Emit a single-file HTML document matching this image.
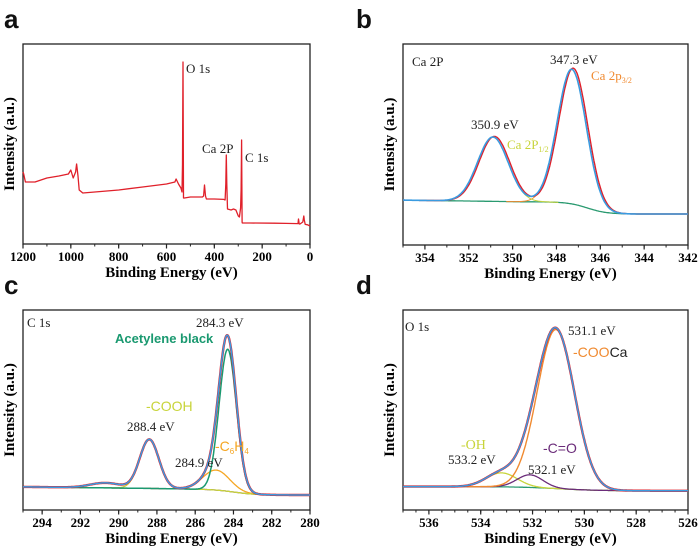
<!DOCTYPE html>
<html><head><meta charset="utf-8"><style>
html,body{margin:0;padding:0;background:#fff;}
svg{display:block;font-family:"Liberation Serif",serif;}
.tk{font-size:13px;font-weight:bold;text-anchor:middle;}
.ttl{font-size:15px;font-weight:bold;text-anchor:middle;}
.lbl{font-size:13px;}
.let{font-family:"Liberation Sans",sans-serif;font-weight:bold;font-size:26px;}
</style></head><body>
<svg id="c" width="700" height="554" viewBox="0 0 700 554" xmlns="http://www.w3.org/2000/svg"></svg>
<script>
// ---- data ----
// panel a: survey spectrum [energy, intensity(0-100)]
const surveyE = [1200,1197,1190,1150,1100,1050,1010,1000,990,980,976,970,965,950,900,800,700,600,565,560,550,540,535,533,531,529,525,500,450,445,441,437,433,400,360,355,352,350,348,345,330,320,310,300,295,290,288,286,284,283,250,150,100,50,48,45,42,30,26,24,20,10,0];
const surveyI = [36,35,31,31,33,34,35,37,33,36,40,34,27,25.5,26,27,28.5,30,31,32.5,30,28,26,40,91,23,23,23.5,23.5,24,29.5,24,22.5,22.5,22.3,22,30,44.5,30,17.5,17,17.5,17,14,13.5,18,27,52,11,10.5,10.5,10.4,10.3,10.2,12.5,10,10,11,14,12,9.8,9.6,9];
// panel b: Ca 2p
const bCenters=[347.3,350.9], bHeights=[67,32], bSigmas=[0.66,0.7];
// panel c: C 1s
const cCenters=[284.3,284.9,288.4,290.7], cHeights=[71,10,24.5,2.5], cSigmas=[0.45,0.7,0.5,0.8];
// panel d: O 1s
const dCenters=[531.1,532.1,533.2], dHeights=[79.5,6.3,7], dSigmas=[0.72,0.5,0.6];

const ticksA=[1200,1000,800,600,400,200,0];
const ticksB=[354,352,350,348,346,344,342];
const ticksC=[294,292,290,288,286,284,282,280];
const ticksD=[536,534,532,530,528,526];

const NS="http://www.w3.org/2000/svg";
const svg=document.getElementById('c');
function el(t,a,p){const e=document.createElementNS(NS,t);for(const k in a)e.setAttribute(k,a[k]);(p||svg).appendChild(e);return e;}

function panel(name,L,R,T,B,x0,x1,ticks,minorStep){
  const g=el('g',{});
  
  
  const sx=e=>L+(x0-e)/(x0-x1)*(R-L);
  const sy=v=>B-v/100*(B-T);
  el('rect',{x:L,y:T,width:R-L,height:B-T,fill:'none',stroke:'#222','stroke-width':1.3},g);
  for(let e=Math.min(x0,x1);e<=Math.max(x0,x1)+1e-9;e+=minorStep){
    const x=sx(e);el('line',{x1:x,x2:x,y1:B,y2:B+2.5,stroke:'#222'},g);
  }
  ticks.forEach(t=>{const x=sx(t);el('line',{x1:x,x2:x,y1:B,y2:B+4.5,stroke:'#222','stroke-width':1.2},g);
    const tx=el('text',{x:x,y:B+17,class:'tk'},g);tx.textContent=t;
    });
  const xt=el('text',{x:(L+R)/2+5,y:B+33,class:'ttl'},g);xt.textContent='Binding Energy (eV)';
  
  const yt=el('text',{x:0,y:0,class:'ttl',transform:`translate(${L-9},${(T+B)/2}) rotate(-90)`},g);yt.textContent='Intensity (a.u.)';
  
  return {g,sx,sy};
}
function pathFrom(pts,sx,sy){return pts.map((p,i)=>(i?'L':'M')+sx(p[0]).toFixed(1)+','+sy(p[1]).toFixed(1)).join('');}
function line(g,d,color,w,name){const p=el('path',{d:d,fill:'none',stroke:color,'stroke-width':w||1.4,'stroke-linejoin':'round'},g);
  return p;}
function txt(g,x,y,s,color,name,cls,extra){const t=el('text',Object.assign({x:x,y:y,fill:color||'#222',class:cls||'lbl'},extra||{}),g);t.innerHTML=s;
  return t;}
const gauss=(e,c,h,s)=>h*Math.exp(-0.5*((e-c)/s)**2);
function grid(a,b,n){const r=[];for(let i=0;i<=n;i++)r.push(a+(b-a)*i/n);return r;}
function bg(e,hi,lo,c,w){return lo+(hi-lo)/(1+Math.exp(-(e-c)/w));}

// ---- panel a ----
{const P=panel('survey-panel',23,310,44,244,1200,0,ticksA,100);
 line(P.g,pathFrom(surveyE.map((e,i)=>[e,surveyI[i]]),P.sx,P.sy),'#e0202a',1.3,'survey-line');
 txt(P.g,186,73,'O 1s','#222','label-o1s');
 txt(P.g,202,153,'Ca 2P','#222','label-ca2p');
 txt(P.g,245,162,'C 1s','#222','label-c1s');
 txt(svg,4,28,'a','#111','panel-letter-a','let');}

// ---- panel b ----
{const P=panel('ca2p-panel',403,688,44,245,355,342,ticksB,1);
 const E=grid(355,342,400);
 const B=e=>bg(e,21.5,15.4,346.6,0.45)+(e>349.5?(e-349.5)*0.15:0);
 const env=E.map(e=>[e,B(e)+bCenters.reduce((s,c,i)=>s+gauss(e,c,bHeights[i],bSigmas[i]),0)]);
 const raw=E.map(e=>[e,B(e)+bCenters.reduce((s,c,i)=>s+gauss(e+0.07,c,bHeights[i]*1.01,bSigmas[i]),0)]);
 line(P.g,pathFrom(E.map(e=>[e,B(e)]),P.sx,P.sy),'#2a9a70',1.3,'background-line');
 bCenters.forEach((c,i)=>line(P.g,pathFrom(E.filter(e=>Math.abs(e-c)<3).map(e=>[e,B(e)+gauss(e,c,bHeights[i],bSigmas[i])]),P.sx,P.sy),i?'#c8d43a':'#f08a30',1,'component-'+i));
 line(P.g,pathFrom(raw,P.sx,P.sy),'#e0202a',1.4,'raw-data-line');
 line(P.g,pathFrom(env,P.sx,P.sy),'#3a9be0',1.6,'fit-envelope-line');
 txt(P.g,412,66,'Ca 2P','#222','label-ca2p-title');
 txt(P.g,550,64,'347.3 eV','#222','label-347');
 txt(P.g,591,80,'Ca 2p<tspan font-size="8" dy="3">3/2</tspan>','#f08a30','label-ca2p32');
 txt(P.g,471,129,'350.9 eV','#222','label-350');
 txt(P.g,507,149,'Ca 2P<tspan font-size="8" dy="3">1/2</tspan>','#c8d43a','label-ca2p12');
 txt(svg,356,28,'b','#111','panel-letter-b','let');}

// ---- panel c ----
{const P=panel('c1s-panel',23,310,310,510,295,280,ticksC,1);
 const E=grid(295,280,500);
 const B=e=>bg(e,10.5,7.5,284,0.6)+(e>286?(e-286)*0.12:0);
 const comp=i=>E.map(e=>[e,B(e)+gauss(e,cCenters[i],cHeights[i],cSigmas[i])]);
 const env=E.map(e=>[e,B(e)+cCenters.reduce((s,c,i)=>s+gauss(e,c,cHeights[i],cSigmas[i]),0)]);
 line(P.g,pathFrom(E.map(e=>[e,B(e)]),P.sx,P.sy),'#6b2c7a',1.3,'background-line');
 line(P.g,pathFrom(comp(1),P.sx,P.sy),'#f5a623',1.3,'c6h4-component');
 line(P.g,pathFrom(comp(2),P.sx,P.sy),'#c8d43a',1.3,'cooh-component');
 line(P.g,pathFrom(comp(0),P.sx,P.sy),'#1a9970',1.5,'acetylene-component');
 line(P.g,pathFrom(env,P.sx,P.sy),'#e0202a',2.4,'raw-data-line');
 line(P.g,pathFrom(env,P.sx,P.sy),'#3a9be0',1.5,'fit-envelope-line');
 txt(P.g,27,327,'C 1s','#222','label-c1s-title');
 txt(P.g,196,327,'284.3 eV','#222','label-284-3');
 txt(P.g,115,343,'Acetylene black','#1a9970','label-acetylene','lbl',{style:'font-family:Liberation Sans,sans-serif;font-weight:bold;font-size:13px'});
 txt(P.g,146,411,'-COOH','#c8d43a','label-cooh','lbl',{style:'font-family:Liberation Sans,sans-serif;font-size:14px'});
 txt(P.g,127,431,'288.4 eV','#222','label-288-4');
 txt(P.g,215,451,'-C<tspan font-size="8" dy="3">6</tspan><tspan dy="-3">H</tspan><tspan font-size="8" dy="3">4</tspan>','#f5a623','label-c6h4','lbl',{style:'font-family:Liberation Sans,sans-serif;font-size:14px'});
 txt(P.g,175,467,'284.9 eV','#222','label-284-9');
 txt(svg,4,294,'c','#111','panel-letter-c','let');}

// ---- panel d ----
{const P=panel('o1s-panel',403,688,310,510,537,526,ticksD,0.5);
 const E=grid(537,526,500);
 const B=e=>bg(e,11.7,9.6,531,0.8);
 const comp=i=>E.map(e=>[e,B(e)+gauss(e,dCenters[i],dHeights[i],dSigmas[i])]);
 const env=E.map(e=>[e,B(e)+dCenters.reduce((s,c,i)=>s+gauss(e,c,dHeights[i],dSigmas[i]),0)]);
 line(P.g,pathFrom(E.map(e=>[e,B(e)]),P.sx,P.sy),'#2a9a70',1.3,'background-line');
 line(P.g,pathFrom(comp(2),P.sx,P.sy),'#c8d43a',1.3,'oh-component');
 line(P.g,pathFrom(comp(1),P.sx,P.sy),'#6b2c7a',1.3,'co-component');
 line(P.g,pathFrom(comp(0),P.sx,P.sy),'#f08a30',1.4,'cooca-component');
 line(P.g,pathFrom(env,P.sx,P.sy),'#e0202a',2.4,'raw-data-line');
 line(P.g,pathFrom(env,P.sx,P.sy),'#3a9be0',1.5,'fit-envelope-line');
 txt(P.g,405,331,'O 1s','#222','label-o1s-title');
 txt(P.g,568,335,'531.1 eV','#222','label-531-1');
 txt(P.g,573,357,'<tspan fill="#f08a30">-COO</tspan>Ca','#222','label-cooca','lbl',{style:'font-family:Liberation Sans,sans-serif;font-size:14px'});
 txt(P.g,461,449,'-OH','#c8d43a','label-oh','lbl',{style:'font-size:14px'});
 txt(P.g,448,464,'533.2 eV','#222','label-533-2');
 txt(P.g,543,453,'-C=O','#6b2c7a','label-co','lbl',{style:'font-family:Liberation Sans,sans-serif;font-size:14px'});
 txt(P.g,528,474,'532.1 eV','#222','label-532-1');
 txt(svg,356,294,'d','#111','panel-letter-d','let');}
</script>
</body></html>
